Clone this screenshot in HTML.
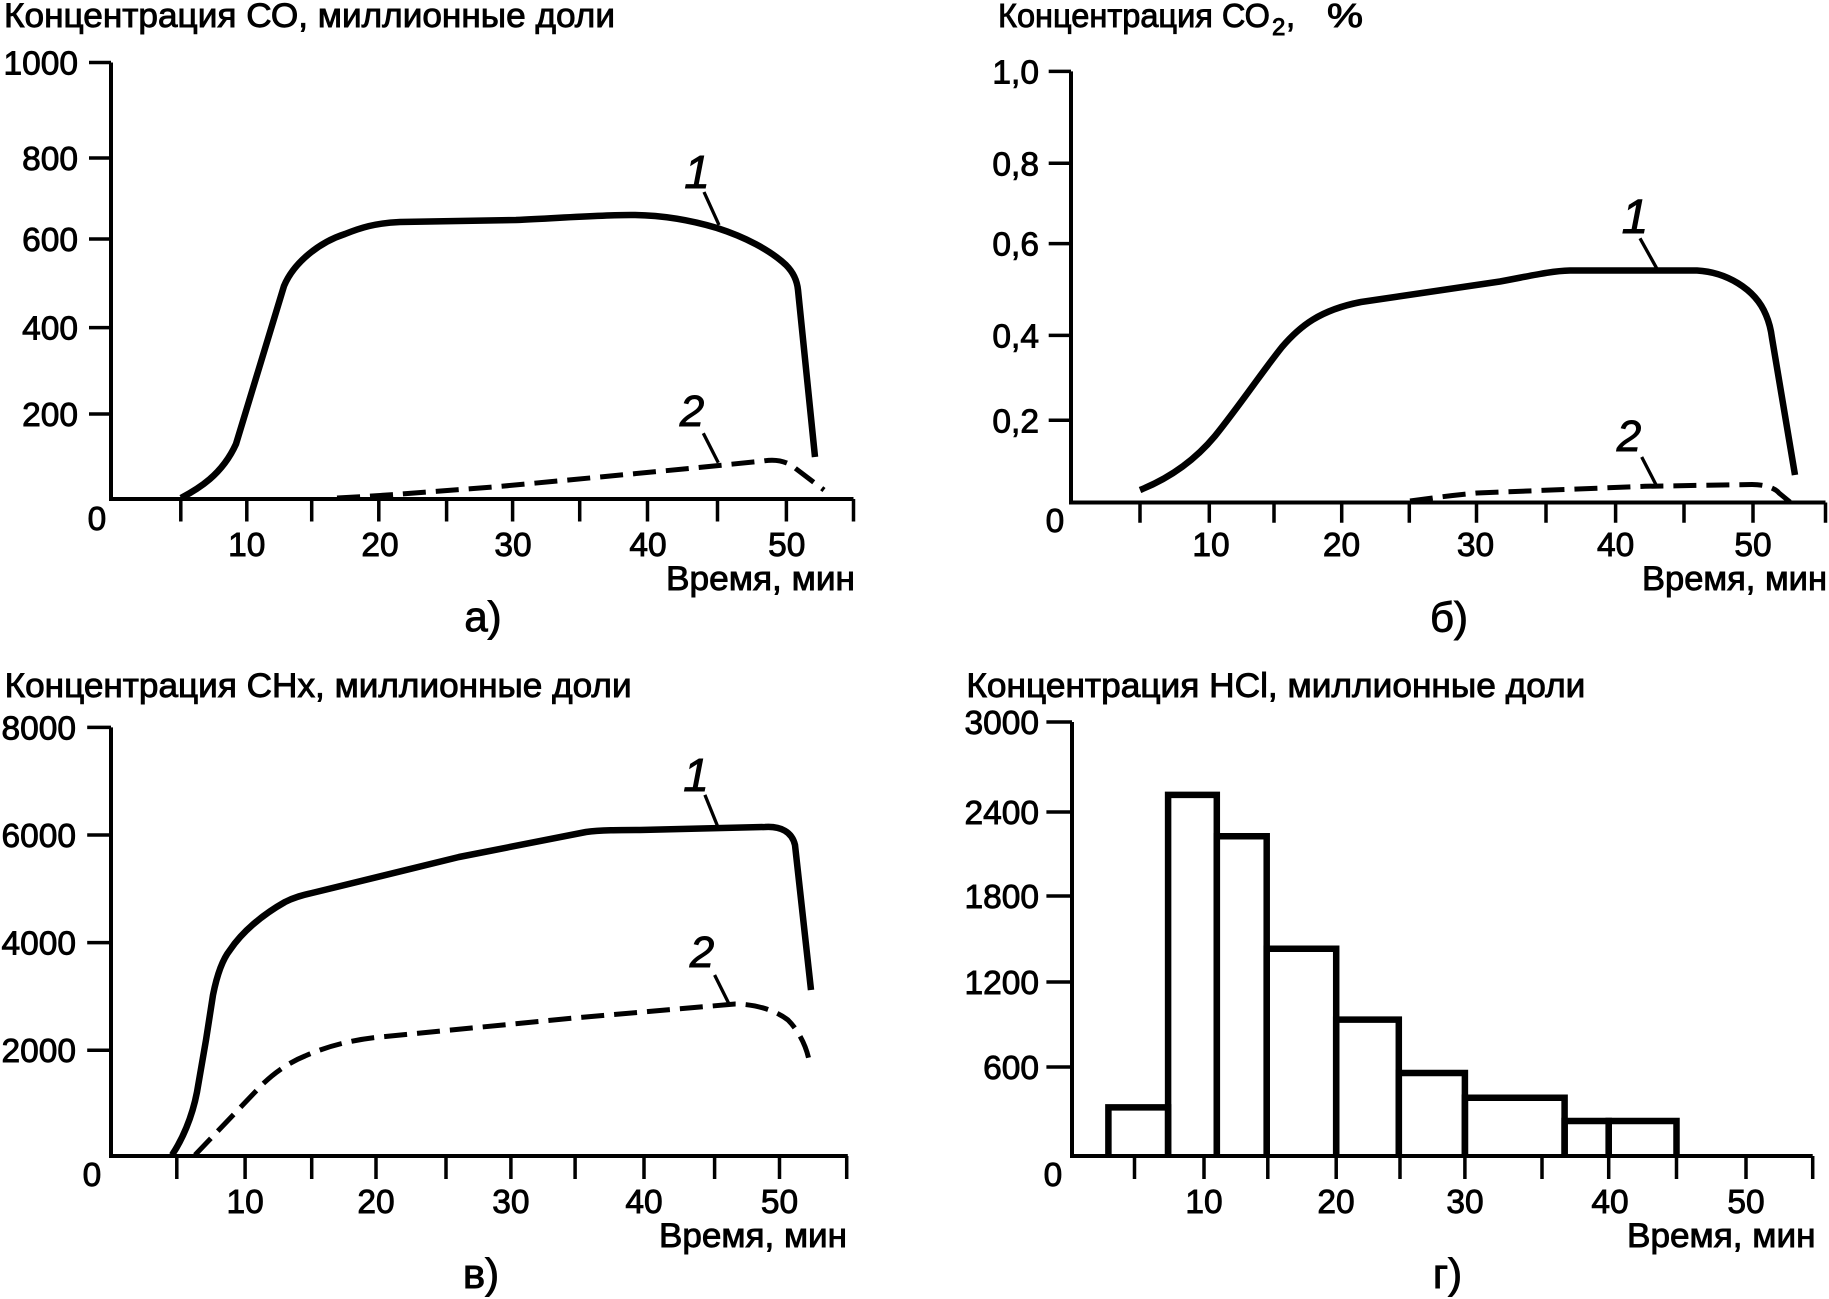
<!DOCTYPE html>
<html><head><meta charset="utf-8">
<style>html,body{margin:0;padding:0;background:#fff}svg{display:block}</style>
</head><body>
<svg width="1829" height="1299" viewBox="0 0 1829 1299" xmlns="http://www.w3.org/2000/svg" font-family="'Liberation Sans', 'Noto Sans CJK SC', Arial, sans-serif" fill="#000">
<rect width="1829" height="1299" fill="#fff"/>
<g stroke="#000" stroke-width="0.9">
<!-- ================= PANEL A texts ================= -->
<text x="4" y="27" font-size="34" textLength="611" lengthAdjust="spacingAndGlyphs">Концентрация СО, миллионные доли</text>
<g font-size="33.5" text-anchor="end">
  <text x="78" y="74.5">1000</text>
  <text x="78" y="170">800</text>
  <text x="78" y="251">600</text>
  <text x="78" y="339.6">400</text>
  <text x="78" y="426">200</text>
</g>
<g font-size="33.5" text-anchor="middle">
  <text x="97" y="530">0</text>
  <text x="246.8" y="556">10</text>
  <text x="380" y="556">20</text>
  <text x="513" y="556">30</text>
  <text x="648" y="556">40</text>
  <text x="786.7" y="556">50</text>
</g>
<text x="666" y="590" font-size="34" textLength="189" lengthAdjust="spacingAndGlyphs">Время, мин</text>
<text x="483" y="631" font-size="42" text-anchor="middle">а)</text>
<text x="697" y="188" font-size="46" font-style="italic" text-anchor="middle">1</text>
<text x="692" y="426" font-size="44" font-style="italic" text-anchor="middle">2</text>

<!-- ================= PANEL B texts ================= -->
<text x="998" y="27" font-size="33" textLength="272" lengthAdjust="spacingAndGlyphs">Концентрация СО</text>
<text x="1272" y="35" font-size="24">2</text>
<text x="1286" y="27" font-size="33">,</text>
<text x="1327" y="27" font-size="33" textLength="36" lengthAdjust="spacingAndGlyphs">%</text>
<g font-size="33.5" text-anchor="end">
  <text x="1039" y="83.5">1,0</text>
  <text x="1039" y="175.3">0,8</text>
  <text x="1039" y="255.7">0,6</text>
  <text x="1039" y="347.5">0,4</text>
  <text x="1039" y="432.3">0,2</text>
</g>
<g font-size="33.5" text-anchor="middle">
  <text x="1055" y="532">0</text>
  <text x="1211" y="556">10</text>
  <text x="1341.5" y="556">20</text>
  <text x="1475.5" y="556">30</text>
  <text x="1615.6" y="556">40</text>
  <text x="1753" y="556">50</text>
</g>
<text x="1642" y="590" font-size="34" textLength="185" lengthAdjust="spacingAndGlyphs">Время, мин</text>
<text x="1449" y="631.7" font-size="42" text-anchor="middle">б)</text>
<text x="1635" y="233" font-size="48" font-style="italic" text-anchor="middle">1</text>
<text x="1629" y="451" font-size="44" font-style="italic" text-anchor="middle">2</text>

<!-- ================= PANEL C texts ================= -->
<text x="4.6" y="697" font-size="34" textLength="627" lengthAdjust="spacingAndGlyphs">Концентрация CHx, миллионные доли</text>
<g font-size="33.5" text-anchor="end">
  <text x="76" y="739.4">8000</text>
  <text x="76" y="847">6000</text>
  <text x="76" y="954.6">4000</text>
  <text x="76" y="1062.2">2000</text>
</g>
<g font-size="33.5" text-anchor="middle">
  <text x="92" y="1186">0</text>
  <text x="245.1" y="1213">10</text>
  <text x="376" y="1213">20</text>
  <text x="510.9" y="1213">30</text>
  <text x="644" y="1213">40</text>
  <text x="779.5" y="1213">50</text>
</g>
<text x="659" y="1247" font-size="34" textLength="188" lengthAdjust="spacingAndGlyphs">Время, мин</text>
<text x="481" y="1288" font-size="42" text-anchor="middle">в)</text>
<text x="696" y="791" font-size="46" font-style="italic" text-anchor="middle">1</text>
<text x="702" y="967" font-size="44" font-style="italic" text-anchor="middle">2</text>

<!-- ================= PANEL D texts ================= -->
<text x="966.4" y="697" font-size="34" textLength="619" lengthAdjust="spacingAndGlyphs">Концентрация HCl, миллионные доли</text>
<g font-size="33.5" text-anchor="end">
  <text x="1039" y="734">3000</text>
  <text x="1039" y="824">2400</text>
  <text x="1039" y="908">1800</text>
  <text x="1039" y="994">1200</text>
  <text x="1039" y="1079">600</text>
</g>
<g font-size="33.5" text-anchor="middle">
  <text x="1053" y="1186">0</text>
  <text x="1204" y="1213">10</text>
  <text x="1336" y="1213">20</text>
  <text x="1465" y="1213">30</text>
  <text x="1610" y="1213">40</text>
  <text x="1746" y="1213">50</text>
</g>
<text x="1627" y="1247" font-size="34" textLength="188.5" lengthAdjust="spacingAndGlyphs">Время, мин</text>
<text x="1447.5" y="1288" font-size="42" text-anchor="middle">г)</text>
</g>

<!-- ================= PANEL A graphics ================= -->
<g fill="none" stroke="#000" stroke-width="4">
  <path d="M111,62.5 V499 H853.5"/>
  <path d="M89,62.5 H111 M89,158 H111 M89,239 H111 M89,327.6 H111 M89,414 H111" stroke-width="3.5"/>
  <path d="M180.8,499 V521.5 M246.8,499 V521.5 M311.7,499 V521.5 M378.8,499 V521.5 M446.6,499 V521.5 M512.6,499 V521.5 M579.7,499 V521.5 M647.5,499 V521.5 M717.5,499 V521.5 M786.4,499 V521.5 M853.5,499 V521.5" stroke-width="3.5"/>
</g>
<path fill="none" stroke="#000" stroke-width="6.5" stroke-linejoin="round" d="M181,498 C198,489 222,475 236,444 L284,286 C294,262 320,242 345,234 C360,228 375,223 400,222 L516,220 C560,218 600,215 631,215 C660,215 690,220 717,228 C745,237 770,250 786,265 C793,272 797,280 798,290 L815,457"/>
<path fill="none" stroke="#000" stroke-width="5" stroke-dasharray="23 10" d="M337,498 C360,497 380,495.5 397,494.3 L497,486.7 L597,477.3 L697,467.7 L763,461 C772,459.5 781,459.5 791,465 L824,490"/>
<path fill="none" stroke="#000" stroke-width="3.3" d="M704,192 L719,225 M703.3,433.3 L718.3,462.7"/>

<!-- ================= PANEL B graphics ================= -->
<g fill="none" stroke="#000" stroke-width="4">
  <path d="M1071,71.4 V502.5 H1825.5"/>
  <path d="M1048.7,71.4 H1071 M1048.7,163.2 H1071 M1048.7,243.6 H1071 M1048.7,335.4 H1071 M1048.7,420.2 H1071" stroke-width="3.5"/>
  <path d="M1140,502.5 V522.7 M1209.3,502.5 V522.7 M1274,502.5 V522.7 M1341.7,502.5 V522.7 M1409.3,502.5 V522.7 M1476.5,502.5 V522.7 M1546,502.5 V522.7 M1615.6,502.5 V522.7 M1684,502.5 V522.7 M1753,502.5 V522.7 M1825.5,502.5 V522.7" stroke-width="3.5"/>
</g>
<path fill="none" stroke="#000" stroke-width="6.5" stroke-linejoin="round" d="M1140,490 C1170,478 1195,460 1215,436 C1240,405 1262,372 1282,347 C1300,326 1320,310 1361,302 L1500,281.5 C1530,276 1550,271 1570,270.5 L1697,270.5 C1725,272 1755,288 1766,315 C1769,322 1771,330 1772,338 L1795,475"/>
<path fill="none" stroke="#000" stroke-width="5" stroke-dasharray="23 10" d="M1410,501 C1425,499 1445,496 1477,493 L1645,486.3 L1752,484.5 C1765,484.5 1775,488 1779,493 L1790,502"/>
<path fill="none" stroke="#000" stroke-width="3.3" d="M1640,238.3 L1656.7,268.3 M1641.7,457 L1656,484.7"/>

<!-- ================= PANEL C graphics ================= -->
<g fill="none" stroke="#000" stroke-width="4">
  <path d="M111,727.4 V1156 H847.8"/>
  <path d="M87.2,727.4 H111 M87.2,835 H111 M87.2,942.6 H111 M87.2,1050.2 H111" stroke-width="3.5"/>
  <path d="M176.8,1156 V1179 M245.1,1156 V1179 M311.7,1156 V1179 M376,1156 V1179 M446,1156 V1179 M510.9,1156 V1179 M575.1,1156 V1179 M644,1156 V1179 M714.6,1156 V1179 M779.5,1156 V1179 M846.7,1156 V1179" stroke-width="3.5"/>
</g>
<path fill="none" stroke="#000" stroke-width="6.5" stroke-linejoin="round" d="M172,1155 C182,1140 192,1118 197,1092 L206,1040 L213,995 C217,975 222,960 230,950 C242,932 262,915 285,902 C295,897 303,895 312,893 L459,857 L586,832 C600,830 620,830 640,830 L765,827 C781,826 792,832 795,845 L811,990"/>
<path fill="none" stroke="#000" stroke-width="5" stroke-dasharray="23 10" d="M195,1155 L257,1090 C268,1078 285,1064 305,1056 C325,1047 350,1040 380,1037 L574,1018 L735,1004 C755,1004 775,1010 788,1020 C798,1030 806,1045 809,1060"/>
<path fill="none" stroke="#000" stroke-width="3.3" d="M704.9,794.9 L717.5,826 M714.6,975 L729,1003.9"/>

<!-- ================= PANEL D graphics ================= -->
<g fill="none" stroke="#000" stroke-width="4">
  <path d="M1072,722 V1156 H1812.7"/>
  <path d="M1046.4,722 H1072 M1046.4,812 H1072 M1046.4,896 H1072 M1046.4,982 H1072 M1046.4,1067 H1072" stroke-width="3.5"/>
  <path d="M1134.5,1156 V1179 M1204,1156 V1179 M1267.8,1156 V1179 M1336.2,1156 V1179 M1400,1156 V1179 M1464.9,1156 V1179 M1542,1156 V1179 M1608.7,1156 V1179 M1676.5,1156 V1179 M1746,1156 V1179 M1812.7,1156 V1179" stroke-width="3.5"/>
</g>
<g fill="none" stroke="#000" stroke-width="6.5" stroke-linejoin="miter">
  <path d="M1108.4,1156 V1107.4 H1168.1 V1156"/>
  <path d="M1168.1,1156 V794.9 H1216.8 V1156"/>
  <path d="M1216.8,1156 V836.3 H1266.7 V1156"/>
  <path d="M1266.7,1156 V948.8 H1336.2 V1156"/>
  <path d="M1336.2,1156 V1019.6 H1398.8 V1156"/>
  <path d="M1398.8,1156 V1073 H1464.9 V1156"/>
  <path d="M1464.9,1156 V1097.8 H1564.6 V1156"/>
  <path d="M1564.6,1156 V1121 H1608.7 V1156"/>
  <path d="M1608.7,1156 V1121 H1676.5 V1156"/>
</g>
</svg>
</body></html>
